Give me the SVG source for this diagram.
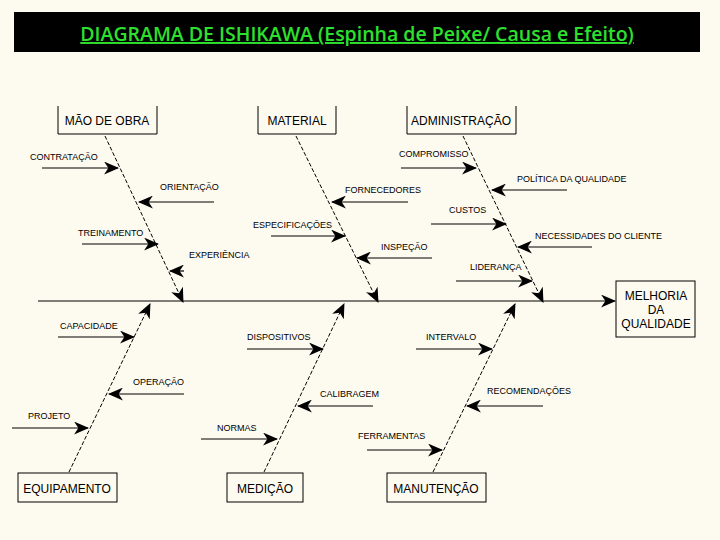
<svg xmlns="http://www.w3.org/2000/svg" width="720" height="540" viewBox="0 0 720 540">
<style>
.s{font-family:"Liberation Sans",Arial,sans-serif;font-size:9px;fill:#000}
.b{font-family:"Liberation Sans",Arial,sans-serif;font-size:12px;fill:#000}
.box{fill:none;stroke:#000;stroke-width:1}
.bone{stroke:#000;stroke-width:1;stroke-dasharray:4 2;fill:none}
.ar{stroke:#000;stroke-width:1.2;fill:none;marker-end:url(#ah)}
</style>
<defs>
<marker id="ah" viewBox="0 0 14 12" refX="13" refY="6" markerWidth="15" markerHeight="13" markerUnits="userSpaceOnUse" orient="auto">
<path d="M0,0 L14,6 L0,12 L4,6 Z" fill="#000"/>
</marker>
</defs>
<rect width="720" height="540" fill="#fdfaf0"/>
<rect x="14" y="12" width="686" height="40" fill="#000"/>
<text x="357" y="41" text-anchor="middle" font-family="'Open Sans','Liberation Sans',sans-serif" font-size="19.5" font-weight="600" fill="#2ee02e" text-decoration="underline">DIAGRAMA DE ISHIKAWA (Espinha de Peixe/ Causa e Efeito)</text>

<g id="connectors">
<path class="ar" d="M38,301 L615,301"/>
<path class="bone" d="M105,136 L183,302" marker-end="url(#ah)"/>
<path class="bone" d="M296,136 L378,302" marker-end="url(#ah)"/>
<path class="bone" d="M463,136 L543,302" marker-end="url(#ah)"/>
<path class="bone" d="M69,472 L150,304" marker-end="url(#ah)"/>
<path class="bone" d="M264,472 L344,304" marker-end="url(#ah)"/>
<path class="bone" d="M433,472 L515,304" marker-end="url(#ah)"/>
<path class="ar" d="M42,168 L118,168"/>
<path class="ar" d="M214,202 L139,202"/>
<path class="ar" d="M82,244 L158,244"/>
<path class="ar" d="M184,271 L170,271"/>
<path class="ar" d="M408,202 L332,202"/>
<path class="ar" d="M271,236 L345,236"/>
<path class="ar" d="M432,258 L357,258"/>
<path class="ar" d="M401,168 L476,168"/>
<path class="ar" d="M567,190 L492,190"/>
<path class="ar" d="M431,224 L506,224"/>
<path class="ar" d="M592,247 L518,247"/>
<path class="ar" d="M456,281 L532,281"/>
<path class="ar" d="M58,337 L134,337"/>
<path class="ar" d="M184,394 L109,394"/>
<path class="ar" d="M12,428 L88,428"/>
<path class="ar" d="M247,349 L323,349"/>
<path class="ar" d="M373,406 L298,406"/>
<path class="ar" d="M201,439 L277,439"/>
<path class="ar" d="M416,349 L492,349"/>
<path class="ar" d="M543,406 L467,406"/>
<path class="ar" d="M367,450 L442,450"/>
</g>

<g id="n-maodeobra"><path class="box" d="M58,106 V134 H157 V106"/><text class="b" x="107" y="125" text-anchor="middle" font-size="11">MÃO DE OBRA</text></g>
<g id="n-material"><path class="box" d="M258,106 V134 H336 V106"/><text class="b" x="297" y="125" text-anchor="middle" font-size="11">MATERIAL</text></g>
<g id="n-admin"><path class="box" d="M407,106 V134 H516 V106"/><text class="b" x="461" y="125" text-anchor="middle" font-size="11">ADMINISTRAÇÃO</text></g>
<g id="n-melhoria"><rect class="box" x="616" y="281" width="79" height="56"/><text class="b" x="656" y="300" text-anchor="middle">MELHORIA</text><text class="b" x="656" y="314" text-anchor="middle">DA</text><text class="b" x="656" y="328" text-anchor="middle">QUALIDADE</text></g>
<g id="n-equip"><rect class="box" x="18" y="473" width="99" height="29"/><text class="b" x="67" y="493" text-anchor="middle">EQUIPAMENTO</text></g>
<g id="n-medicao"><rect class="box" x="227" y="473" width="76" height="29"/><text class="b" x="265" y="493" text-anchor="middle">MEDIÇÃO</text></g>
<g id="n-manut"><rect class="box" x="387" y="473" width="99" height="29"/><text class="b" x="436" y="493" text-anchor="middle">MANUTENÇÃO</text></g>

<g id="labels">
<text class="s" x="30" y="160">CONTRATAÇÃO</text>
<text class="s" x="160" y="190">ORIENTAÇÃO</text>
<text class="s" x="78" y="236">TREINAMENTO</text>
<text class="s" x="189" y="258">EXPERIÊNCIA</text>
<text class="s" x="345" y="193">FORNECEDORES</text>
<text class="s" x="253" y="228">ESPECIFICAÇÕES</text>
<text class="s" x="381" y="250">INSPEÇÃO</text>
<text class="s" x="399" y="157">COMPROMISSO</text>
<text class="s" x="517" y="182">POLÍTICA DA QUALIDADE</text>
<text class="s" x="449" y="213">CUSTOS</text>
<text class="s" x="535" y="239">NECESSIDADES DO CLIENTE</text>
<text class="s" x="470" y="270">LIDERANÇA</text>
<text class="s" x="60" y="329">CAPACIDADE</text>
<text class="s" x="133" y="385">OPERAÇÃO</text>
<text class="s" x="28" y="419">PROJETO</text>
<text class="s" x="247" y="340">DISPOSITIVOS</text>
<text class="s" x="320" y="397">CALIBRAGEM</text>
<text class="s" x="217" y="431">NORMAS</text>
<text class="s" x="426" y="340">INTERVALO</text>
<text class="s" x="487" y="394">RECOMENDAÇÕES</text>
<text class="s" x="358" y="439">FERRAMENTAS</text>
</g>
</svg>
